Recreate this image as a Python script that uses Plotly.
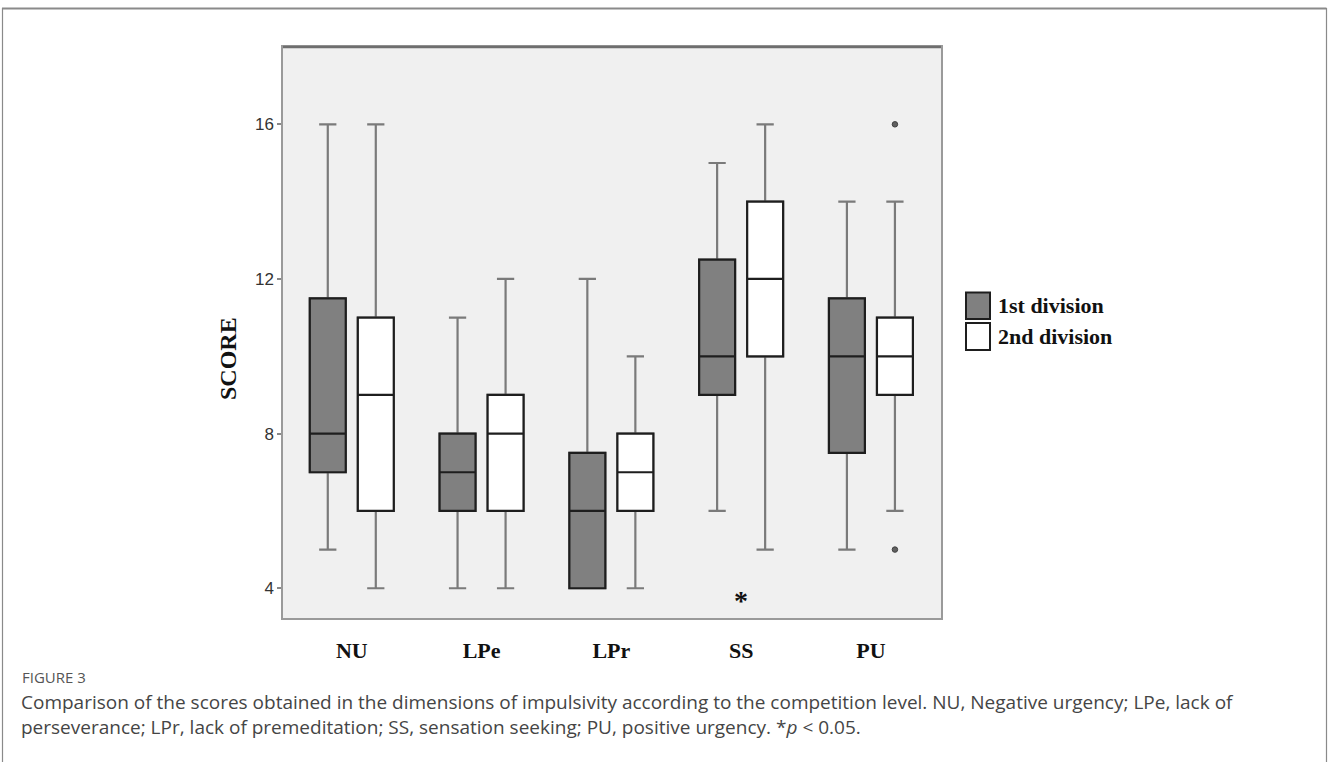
import plotly.graph_objects as go

# ---------------- data ----------------
categories = ["NU", "LPe", "LPr", "SS", "PU"]
series_names = ["1st division", "2nd division"]

d1_low = [5, 4, 4, 6, 5]
d1_q1 = [7, 6, 4, 9, 7.5]
d1_med = [8, 7, 6, 10, 10]
d1_q3 = [11.5, 8, 7.5, 12.5, 11.5]
d1_high = [16, 11, 12, 15, 14]

d2_low = [4, 4, 4, 5, 6]
d2_q1 = [6, 6, 6, 10, 9]
d2_med = [9, 8, 7, 12, 10]
d2_q3 = [11, 9, 8, 14, 11]
d2_high = [16, 12, 10, 16, 14]

d2_outlier_cat = ["PU", "PU"]
d2_outlier_val = [16, 5]

sig_cat = ["SS"]
sig_val = [3.8]
sig_text = ["*"]

y_ticks = [4, 8, 12, 16]
y_range = [3.23, 18]
caption_label = "FIGURE 3"
caption_lines = [
    "Comparison of the scores obtained in the dimensions of impulsivity according to the competition level. NU, Negative urgency; LPe, lack of",
    "perseverance; LPr, lack of premeditation; SS, sensation seeking; PU, positive urgency. *<i>p</i> &lt; 0.05.",
]

# ---------------- style ----------------
W, H = 1328, 762
L, R, T, B = 283, 941, 47, 618  # plot area in pixels
OFF = 0.185      # half distance between paired boxes (category units)
BOX_W = 0.277    # box width (category units)
FILLS = ["#808080", "#ffffff"]
WHISK = "#7a7a7a"
EDGE = "#1e1e1e"
SERIF = "Liberation Serif, Times New Roman, serif"
SANS = "Liberation Sans, Arial, sans-serif"
CAP = "Open Sans, Noto Sans, sans-serif"

idx = {c: i for i, c in enumerate(categories)}


def px(xp):
    return (xp - L) / (R - L)


def py(yp):
    return (B - yp) / (B - T)


fig = go.Figure()
series = [
    (d1_low, d1_q1, d1_med, d1_q3, d1_high, -OFF),
    (d2_low, d2_q1, d2_med, d2_q3, d2_high, OFF),
]
for k, (lo, q1, med, q3, hi, off) in enumerate(series):
    xs = [i + off for i in range(len(categories))]
    # whiskers (gray) layer
    fig.add_trace(go.Box(
        x=xs, q1=q1, median=med, q3=q3, lowerfence=lo, upperfence=hi,
        width=BOX_W, whiskerwidth=0.48, fillcolor=FILLS[k],
        line=dict(color=WHISK, width=2.2), boxpoints=False,
        name=series_names[k], showlegend=False, hoverinfo="skip",
    ))
    # box outline (dark) layer
    fig.add_trace(go.Box(
        x=xs, q1=q1, median=med, q3=q3, lowerfence=q1, upperfence=q3,
        width=BOX_W, whiskerwidth=0, fillcolor=FILLS[k],
        line=dict(color=EDGE, width=2.2), boxpoints=False,
        name=series_names[k], showlegend=False,
    ))

# outliers of 2nd division
fig.add_trace(go.Scatter(
    x=[idx[c] + OFF for c in d2_outlier_cat], y=d2_outlier_val, mode="markers",
    marker=dict(size=5.5, color="#606060", line=dict(color="#404040", width=1)),
    showlegend=False, hoverinfo="skip",
))

# significance mark
for c, v, t in zip(sig_cat, sig_val, sig_text):
    fig.add_annotation(x=idx[c], y=v, text="<b>%s</b>" % t, showarrow=False,
                       font=dict(family=SERIF, size=28, color="#111"),
                       yanchor="middle", xanchor="center", yshift=-5)

# legend (drawn by hand for large swatches)
leg = [(292.5, 319, FILLS[0], series_names[0]), (323, 350, FILLS[1], series_names[1])]
for y0, y1, col, name in leg:
    fig.add_shape(type="rect", xref="paper", yref="paper",
                  x0=px(966), x1=px(990), y0=py(y1), y1=py(y0),
                  fillcolor=col, line=dict(color="#1e1e1e", width=2))
    fig.add_annotation(xref="paper", yref="paper", x=px(996), y=py((y0 + y1) / 2),
                       text="<b>%s</b>" % name, showarrow=False, xanchor="left", yanchor="middle",
                       font=dict(family=SERIF, size=22, color="#111"))

# y axis title
fig.add_annotation(xref="paper", yref="paper", x=px(228), y=py(359), text="<b>SCORE</b>",
                   textangle=-90, showarrow=False, xanchor="center", yanchor="middle",
                   font=dict(family=SERIF, size=24, color="#111"))

# outer figure frame
fig.add_shape(type="line", xref="paper", yref="paper", x0=px(2), x1=px(1326.5), y0=py(8.5), y1=py(8.5),
              line=dict(color="#8a8a8a", width=2))
fig.add_shape(type="line", xref="paper", yref="paper", x0=px(2.5), x1=px(2.5), y0=py(8), y1=py(800),
              line=dict(color="#8a8a8a", width=1.2))
fig.add_shape(type="line", xref="paper", yref="paper", x0=px(1326.5), x1=px(1326.5), y0=py(8), y1=py(800),
              line=dict(color="#8a8a8a", width=1.2))
# darker top edge of plot frame
fig.add_shape(type="line", xref="paper", yref="paper", x0=0, x1=1, y0=1, y1=1,
              line=dict(color="#6e6e6e", width=2.5))

# caption
fig.add_annotation(xref="paper", yref="paper", x=px(20), y=py(677), text=caption_label,
                   showarrow=False, xanchor="left", yanchor="middle",
                   font=dict(family=CAP, size=15, color="#555"))
fig.add_annotation(xref="paper", yref="paper", x=px(19), y=py(714.5), text="<br>".join(caption_lines),
                   showarrow=False, xanchor="left", yanchor="middle", align="left",
                   font=dict(family=CAP, size=19, color="#454545"))

fig.update_layout(
    width=W, height=H,
    margin=dict(l=L, r=W - R, t=T, b=H - B, pad=0),
    paper_bgcolor="white", plot_bgcolor="#f0f0f0",
    showlegend=False,
    xaxis=dict(range=[-0.53, 4.54], tickmode="array", tickvals=list(range(len(categories))),
               ticktext=["<b>%s</b>" % c for c in categories], showgrid=False, zeroline=False,
               showline=True, mirror=True, linecolor="#9a9a9a", linewidth=2, ticks="",
               ticklabelstandoff=12,
               tickfont=dict(family=SERIF, size=22, color="#111")),
    yaxis=dict(range=y_range, tickmode="array", tickvals=y_ticks, showgrid=False, zeroline=False,
               showline=True, mirror=True, linecolor="#9a9a9a", linewidth=1.5,
               ticks="outside", ticklen=4, tickcolor="#888", tickwidth=1.5,
               tickfont=dict(family=SANS, size=17, color="#333")),
)

fig.write_html("out.html", config={"displayModeBar": False},
               post_script="document.body.style.margin='0px';")
